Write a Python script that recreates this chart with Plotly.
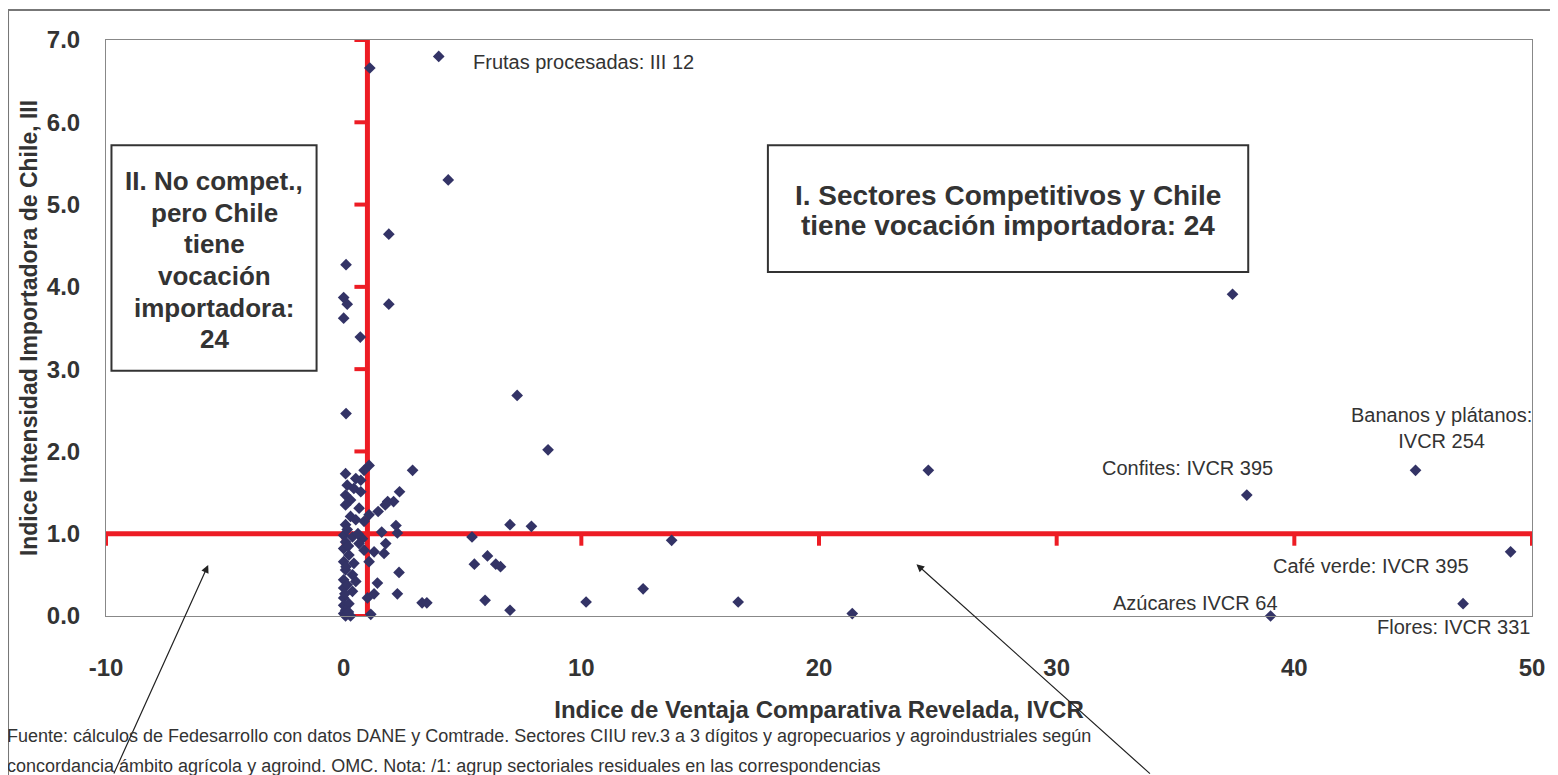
import plotly.graph_objects as go

# IVCR (x) and III (y) per sector
ivcr = [4.0, 1.1, 4.4, 1.9, 0.1, 0.0, 0.15, 0.0, 1.9, 0.7, 0.1, 7.3, 8.6, 24.6,
        37.4, 45.1, 38.0, 49.1, 47.1, 39.0, 21.4, 16.6, 13.8, 12.6, 10.2, 7.0,
        5.95, 3.3, 3.5, 2.9, 2.35, 1.85, 2.1, 1.45, 1.75, 2.2, 2.26, 1.6, 1.77,
        1.7, 5.4, 7.0, 7.9, 5.5, 6.05, 6.4, 6.6, 2.33, 1.42, 2.26, 1.28, 1.0,
        1.14, 1.28, 1.07, 0.86,
        1.07, 0.86, 0.08, 0.51, 0.72, 0.15, 0.43, 0.72, 0.08, 0.29, 0.08, 0.65,
        0.29, 1.07, 0.86, 0.08, 0.51, 0.0, 0.37, 0.79, 0.08, 0.65, 0.0, 0.22,
        0.0, 0.43, 0.08, 0.37, 0.0, 0.51, 0.0, 0.37, 0.0, 0.0, 0.22, 0.08, 0.0,
        0.29, 0.08, 0.15, 0.2, 0.1, 0.15, 0.05, 0.2, 0.6]
iii = [6.80, 6.66, 5.30, 4.64, 4.27, 3.87, 3.79, 3.62, 3.79, 3.39, 2.46, 2.68,
       2.02, 1.77, 3.91, 1.77, 1.47, 0.78, 0.15, 0.0, 0.03, 0.17, 0.92, 0.33,
       0.17, 0.07, 0.19, 0.16, 0.16, 1.77, 1.51, 1.39, 1.39, 1.27, 1.35, 1.10,
       1.01, 1.02, 0.88, 0.76, 0.96, 1.11, 1.09, 0.63, 0.73, 0.63, 0.60, 0.53,
       0.40, 0.27, 0.27, 0.22, 0.02, 0.78, 0.66, 0.80,
       1.83, 1.77, 1.73, 1.67, 1.65, 1.59, 1.55, 1.51, 1.47, 1.41, 1.35, 1.31,
       1.21, 1.23, 1.15, 1.11, 1.17, 0.98, 0.96, 0.94, 0.90, 0.88, 0.82, 0.74,
       0.66, 0.64, 0.56, 0.50, 0.44, 0.42, 0.34, 0.30, 0.22, 0.13, 0.15, 0.07,
       0.03, 0.0, 0.0, 1.05, 0.85, 0.60, 0.38, 0.27, 0.05, 1.0]

x_ticks = [-10, 0, 10, 20, 30, 40, 50]
x_tick_text = ["-10", "0", "10", "20", "30", "40", "50"]
y_ticks = [0, 1, 2, 3, 4, 5, 6, 7]
x_cut = 1.0   # vertical divider (IVCR = 1)
y_cut = 1.0   # horizontal divider (III = 1)

box1_lines = ["I. Sectores Competitivos y Chile", "tiene vocación importadora: 24"]
box2_lines = ["II. No compet.,", "pero Chile", "tiene", "vocación", "importadora:", "24"]

RED = "#ED1C24"
FONT = "Liberation Sans, Arial, sans-serif"

fig = go.Figure()
fig.add_trace(go.Scatter(
    x=ivcr, y=iii, mode="markers", cliponaxis=False,
    marker=dict(symbol="diamond", size=9, color="#333366"),
    showlegend=False,
))

shapes = []
# red quadrant dividers with their own tick marks
shapes.append(dict(type="line", xref="x", yref="y", x0=x_ticks[0], x1=x_ticks[-1],
                   y0=y_cut, y1=y_cut, line=dict(color=RED, width=5), layer="below"))
shapes.append(dict(type="line", xref="x", yref="y", x0=x_cut, x1=x_cut,
                   y0=y_ticks[0], y1=y_ticks[-1], line=dict(color=RED, width=5), layer="below"))
for t in x_ticks:
    shapes.append(dict(type="line", xref="x", yref="y", x0=t, x1=t,
                       ysizemode="pixel", yanchor=y_cut, y0=0, y1=-12,
                       line=dict(color=RED, width=4), layer="below"))
for t in y_ticks:
    shapes.append(dict(type="line", xref="x", yref="y", y0=t, y1=t,
                       xsizemode="pixel", xanchor=x_cut, x0=0, x1=-13,
                       line=dict(color=RED, width=4), layer="below"))

# quadrant text boxes
shapes.append(dict(type="rect", xref="x", yref="y", x0=17.85, x1=38.06, y0=4.18, y1=5.72,
                   line=dict(color="#333333", width=2), fillcolor="white"))
shapes.append(dict(type="rect", xref="x", yref="y", x0=-9.77, x1=-1.14, y0=2.98, y1=5.72,
                   line=dict(color="#333333", width=2), fillcolor="white"))
# outer chart frame
shapes.append(dict(type="rect", xref="paper", yref="paper", x0=-0.0687, x1=1.03,
                   y0=-0.3, y1=1.0521, line=dict(color="#777777", width=2)))

lbl_font = dict(family=FONT, size=20, color="#333333")
annotations = []
for i, line in enumerate(box1_lines):
    annotations.append(dict(x=27.95, y=5.115 - i * 0.365, text="<b>" + line + "</b>",
                            showarrow=False, font=dict(family=FONT, size=28, color="#333333")))
for i, line in enumerate(box2_lines):
    annotations.append(dict(x=-5.455, y=5.285 - i * 0.384, text="<b>" + line + "</b>",
                            showarrow=False, font=dict(family=FONT, size=26, color="#333333")))

annotations += [
    dict(x=5.35, y=6.73, text="Frutas procesadas: III 12", showarrow=False,
         xanchor="left", font=lbl_font),
    dict(x=39.2, y=1.80, text="Confites: IVCR 395", showarrow=False,
         xanchor="right", font=lbl_font),
    dict(x=46.2, y=2.29, text="Bananos y plátanos:<br>IVCR 254", showarrow=False,
         font=lbl_font, align="center"),
    dict(x=47.45, y=0.61, text="Café verde: IVCR 395", showarrow=False,
         xanchor="right", font=lbl_font),
    dict(x=39.4, y=0.16, text="Azúcares IVCR 64", showarrow=False,
         xanchor="right", font=lbl_font),
    dict(x=50.0, xref="x", yref="paper", y=-0.042, text="Flores: IVCR 331", showarrow=False,
         xanchor="right", font=lbl_font),
    # arrows pointing into quadrants III and IV
    dict(x=-5.7, y=0.62, text="", showarrow=True, arrowhead=2, arrowsize=1.3,
         arrowwidth=1.2, arrowcolor="#222222", ax=-95, ay=215),
    dict(x=24.1, y=0.63, text="", showarrow=True, arrowhead=2, arrowsize=1.3,
         arrowwidth=1.2, arrowcolor="#222222", ax=235, ay=215),
    # source note
    dict(xref="paper", yref="paper", x=-0.0708, y=-0.23, xanchor="left",
         text="Fuente: cálculos de Fedesarrollo con datos DANE y Comtrade. Sectores CIIU rev.3 a 3 dígitos y agropecuarios y agroindustriales según",
         showarrow=False, font=dict(family=FONT, size=18, color="#333333")),
    dict(xref="paper", yref="paper", x=-0.0708, y=-0.282, xanchor="left",
         text="concordancia ámbito agrícola y agroind. OMC. Nota: /1: agrup sectoriales residuales en las correspondencias",
         showarrow=False, font=dict(family=FONT, size=18, color="#333333")),
]

fig.update_layout(
    width=1550, height=767,
    margin=dict(l=98, r=26, t=32, b=159),
    paper_bgcolor="white", plot_bgcolor="white",
    shapes=shapes, annotations=annotations,
    font=dict(family=FONT, color="#333333"),
    xaxis=dict(range=[x_ticks[0], x_ticks[-1]], tickvals=x_ticks, ticktext=x_tick_text,
               showgrid=False, zeroline=False, showline=True, mirror=True,
               linecolor="#888888", linewidth=1, ticks="", ticklabelstandoff=30,
               tickfont=dict(family=FONT, size=24, color="#333333", weight="bold"),
               title=dict(text="<b>Indice de Ventaja Comparativa Revelada, IVCR</b>",
                          font=dict(family=FONT, size=24, color="#333333"), standoff=21)),
    yaxis=dict(range=[y_ticks[0], y_ticks[-1]], tickvals=y_ticks, tickformat=".1f",
               showgrid=False, zeroline=False, showline=True, mirror=True,
               linecolor="#888888", linewidth=1, ticks="", ticklabelstandoff=20,
               tickfont=dict(family=FONT, size=24, color="#333333", weight="bold"),
               title=dict(text="<b>Indice Intensidad Importadora de Chile, III</b>",
                          font=dict(family=FONT, size=23, color="#333333"), standoff=2)),
)

fig.write_html("out.html")
